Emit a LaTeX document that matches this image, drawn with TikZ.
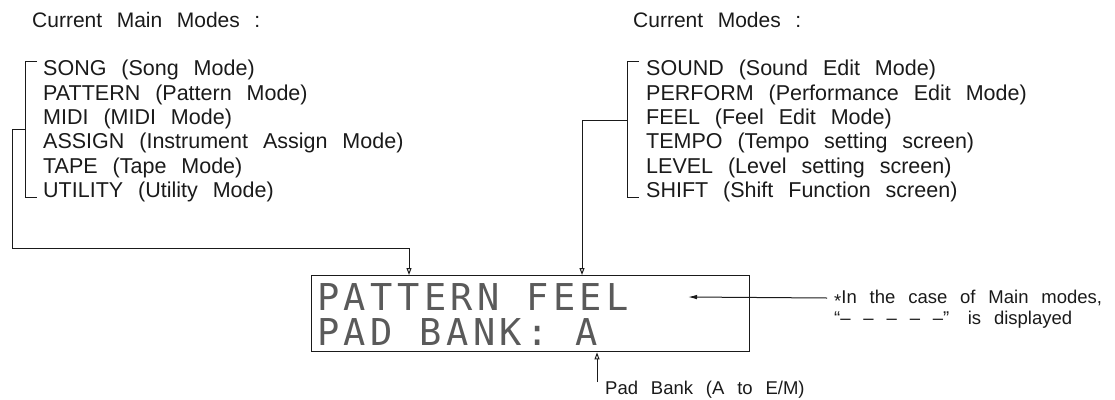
\documentclass[tikz,border=0pt]{standalone}
\usepackage{fontspec}
\setmainfont[WordSpace=2.5]{Liberation Sans}
\newfontfamily\lcdfont[LetterSpace=12]{DejaVu Sans Mono}
\usepackage{tikz}
\usetikzlibrary{arrows.meta, positioning, calc}
\definecolor{pbInk}{HTML}{1A1A1A}
\tikzset{
  pb-title/.style={anchor=west, inner sep=0pt, text=pbInk,
    font=\fontsize{21}{24}\selectfont},
  pb-list/.style={anchor=north west, inner sep=0pt, align=left, text=pbInk,
    font=\fontsize{21.5}{24.4}\selectfont},
  pb-note/.style={anchor=base west, inner sep=0pt, text=pbInk,
    text height=13pt, text depth=3pt, font=\fontsize{18.5}{21}\selectfont},
  pb-lcd/.style={rectangle, draw=pbInk, line width=1.4pt, anchor=north west,
    minimum width=438pt, minimum height=76pt, inner sep=0pt},
  pb-lcdtext/.style={anchor=base west, inner sep=0pt, text=pbInk!72,
    text height=27pt, text depth=0pt, font=\lcdfont\fontsize{37}{37}\selectfont},
  pb-bracket/.style={draw=pbInk, line width=1pt},
  pb-flow/.style={-{Triangle[open, length=7pt, width=5pt]}, draw=pbInk, line width=1pt},
  pb-point/.style={-{Latex[length=9pt, width=4.5pt]}, draw=pbInk, line width=1pt},
}

\begin{document}
\begin{tikzpicture}[x=1pt, y=-1pt]
  \useasboundingbox (0,0) rectangle (1115,399);

  % main modes
  \node[pb-title] (maintitle) at (32,20) {Current Main Modes :};
  \node[pb-list] (mainlist) at (43,60) {SONG (Song Mode)\\ PATTERN (Pattern Mode)\\
    MIDI (MIDI Mode)\\ ASSIGN (Instrument Assign Mode)\\ TAPE (Tape Mode)\\
    UTILITY (Utility Mode)};
  \draw[pb-bracket] (37,61) -- (25,61) -- (25,197) -- (37,197);
  \coordinate (mainfork) at (25,129);

  % edit modes
  \node[pb-title] (modetitle) at (633,20) {Current Modes :};
  \node[pb-list] (modelist) at (646,60) {SOUND (Sound Edit Mode)\\
    PERFORM (Performance Edit Mode)\\ FEEL (Feel Edit Mode)\\
    TEMPO (Tempo setting screen)\\ LEVEL (Level setting screen)\\
    SHIFT (Shift Function screen)};
  \draw[pb-bracket] (639,61) -- (627,61) -- (627,197) -- (639,197);
  \coordinate (modefork) at (627,120);

  % display
  \node[pb-lcd] (lcd) at (311,275) {};
  \node[pb-lcdtext] (lcdtop) at (317,310) {PATTERN FEEL};
  \node[pb-lcdtext] (lcdbottom) at (317,345) {PAD BANK: A};

  \node[pb-note] (notetop) at (834,303)
    {\raisebox{-0.25em}{*}In the case of Main modes,};
  \node[pb-note] (notebottom) at (834,324) {“– – – – –”\quad is displayed};
  \node[pb-note] (padlabel) at (605,394) {Pad Bank (A to E/M)};
  \coordinate (feelend) at (688,297);
  \coordinate (padtail) at (597,382);

  \draw[pb-flow] (mainfork) -- ++(-13,0) -- ++(0,119) -| ([xshift=98pt]lcd.north west);
  \draw[pb-flow] (modefork) -| ([xshift=271pt]lcd.north west);
  \draw[pb-point] ([xshift=-7pt]notetop.west) -- (feelend);
  \draw[pb-flow] (padtail) -- (padtail |- lcd.south);
\end{tikzpicture}
\end{document}
